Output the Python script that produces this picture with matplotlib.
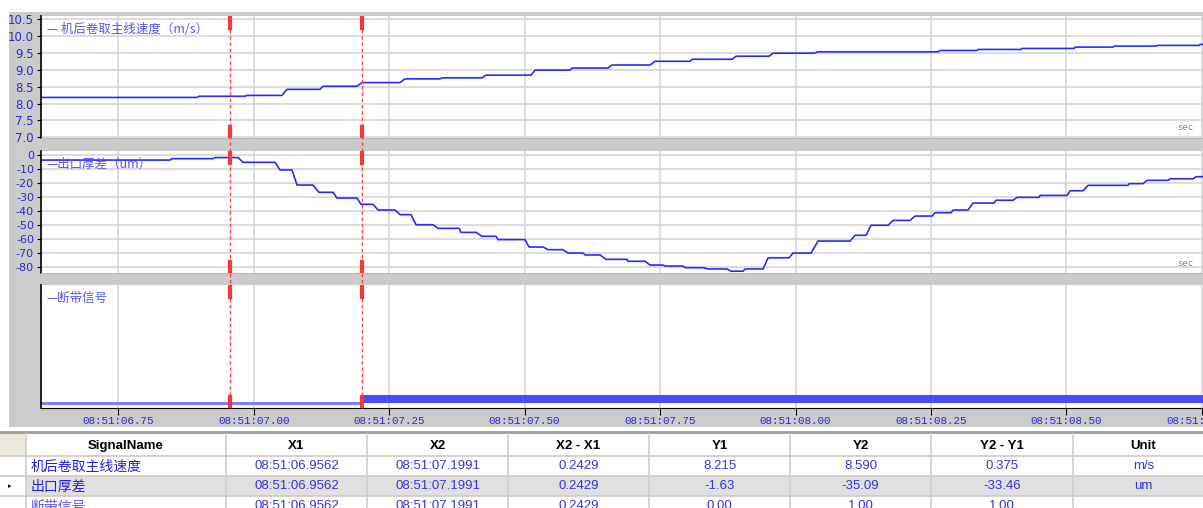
"""Recreate the 3-panel signal recorder view with cursor table."""
import matplotlib
matplotlib.use("Agg")
import matplotlib.pyplot as plt
from matplotlib.patches import Rectangle
from matplotlib.lines import Line2D
from matplotlib.ticker import FuncFormatter, MultipleLocator
from matplotlib import transforms

plt.rcParams["font.family"] = ["DejaVu Sans", "Noto Sans CJK SC"]
plt.rcParams["axes.unicode_minus"] = False

# time in seconds after 08:51:00
# 机后卷取主线速度 (m/s): each level runs from t0 to t1
spd_t0 = [6.6075, 6.8991, 6.9877, 7.0615, 7.1280, 7.2000, 7.2793, 7.3476, 7.4288, 7.5193,
          7.5876, 7.6614, 7.7408, 7.8091, 7.8903, 7.9586, 8.0416, 8.2668, 8.3369, 8.4181,
          8.5160, 8.5880, 8.6674, 8.7468]
spd_t1 = [6.8954, 6.9840, 7.0523, 7.1224, 7.1907, 7.2701, 7.3439, 7.4214, 7.5119, 7.5839,
          7.6540, 7.7315, 7.8054, 7.8829, 7.9511, 8.0342, 8.2631, 8.3350, 8.4163, 8.5141,
          8.5861, 8.6655, 8.7449, 8.7560]
spd_v = [8.18, 8.215, 8.24, 8.42, 8.51, 8.62, 8.73, 8.76, 8.84, 8.99,
         9.05, 9.14, 9.25, 9.31, 9.40, 9.49, 9.53, 9.57, 9.60, 9.63,
         9.67, 9.70, 9.72, 9.75]

# 出口厚差 (um)
thk_t0 = [6.6075, 6.8493, 6.9286, 6.9803, 7.0486, 7.0800, 7.1206, 7.1538, 7.1981, 7.2295,
          7.2701, 7.2996, 7.3402, 7.3827, 7.4214, 7.4510, 7.5082, 7.5433, 7.5802, 7.6116,
          7.6503, 7.6909, 7.7315, 7.7592, 7.7961, 7.8386, 7.8810, 7.9069, 7.9493, 7.9955,
          8.0416, 8.1099, 8.1394, 8.1800, 8.2206, 8.2575, 8.2907, 8.3277, 8.3701, 8.4089,
          8.4513, 8.5067, 8.5399, 8.6156, 8.6489, 8.6913, 8.7393]
thk_t1 = [6.8456, 6.9250, 6.9711, 7.0394, 7.0708, 7.1095, 7.1464, 7.1907, 7.2203, 7.2609,
          7.2904, 7.3310, 7.3790, 7.4104, 7.4473, 7.5008, 7.5340, 7.5710, 7.6079, 7.6393,
          7.6891, 7.7223, 7.7555, 7.7924, 7.8293, 7.8736, 7.9032, 7.9401, 7.9881, 8.0287,
          8.1007, 8.1302, 8.1708, 8.2114, 8.2520, 8.2870, 8.3184, 8.3664, 8.4015, 8.4495,
          8.5011, 8.5307, 8.6137, 8.6414, 8.6876, 8.7338, 8.7560]
thk_v = [-3.4, -2.4, -1.6, -5.0, -10.5, -21.3, -26.5, -30.6, -35.1, -39.2,
         -42.5, -49.7, -52.3, -55.2, -58.0, -60.4, -65.7, -67.6, -70.0, -71.4,
         -74.5, -75.9, -78.6, -79.3, -80.5, -81.4, -83.0, -81.4, -73.4, -70.0,
         -61.4, -57.3, -50.1, -46.6, -43.5, -41.1, -39.2, -34.2, -32.2, -30.1,
         -28.7, -25.4, -21.5, -20.3, -17.9, -16.8, -15.3]

# 断带信号
brk_t = [6.6075, 7.197, 7.197, 8.756]
brk_v = [0, 0, 1, 1]

x1_t, x2_t = 6.9562, 7.1991
t_min, t_max = 6.6075, 8.752

legend_names = ["机后卷取主线速度（m/s）", "出口厚差（um）", "断带信号"]

col_names = ["SignalName", "X1", "X2", "X2 - X1", "Y1", "Y2", "Y2 - Y1", "Unit"]
row_names = ["机后卷取主线速度", "出口厚差", "断带信号"]
row_x1 = ["08:51:06.9562"] * 3
row_x2 = ["08:51:07.1991"] * 3
row_dx = ["0.2429"] * 3
row_y1 = ["8.215", "-1.63", "0.00"]
row_y2 = ["8.590", "-35.09", "1.00"]
row_dy = ["0.375", "-33.46", "1.00"]
row_unit = ["m/s", "um", ""]

W, H = 1203, 508
BLUE = "#2a2aff"
TICK_BLUE = "#2b2bc8"
GRID = "#d6d6d6"


def fx(x):
    return x / W


def fy(y):
    return 1 - y / H


def steps(t0, t1, v):
    xs, ys = [], []
    for a, b, c in zip(t0, t1, v):
        xs += [a, b]
        ys += [c, c]
    return xs, ys


fig = plt.figure(figsize=(W / 100, H / 100), dpi=100)
fig.patch.set_facecolor("white")
fig.add_artist(Rectangle((fx(9), fy(427)), fx(W - 9), 415 / H, transform=fig.transFigure,
                         facecolor="#cbcbcb", edgecolor="none", zorder=-5))

# panel boxes in pixels: (top, bottom)
panels = [(16, 137.5), (151, 273), (285, 408)]
axes = []
for top, bot in panels:
    ax = fig.add_axes([fx(41), fy(bot), fx(W - 41), (bot - top) / H])
    ax.set_facecolor("white")
    ax.set_xlim(t_min, t_max)
    ax.xaxis.set_major_locator(MultipleLocator(0.25))
    ax.grid(True, axis="x", color=GRID, lw=1.2)
    for s in ("top", "right"):
        ax.spines[s].set_visible(False)
    ax.spines["left"].set_color("black")
    ax.spines["left"].set_linewidth(1.2)
    ax.spines["bottom"].set_color("#b8b8b8")
    ax.tick_params(axis="y", colors="black", labelcolor=TICK_BLUE, labelsize=8.5,
                   length=3, pad=2)
    ax.tick_params(axis="x", length=0, labelbottom=False)
    ax.set_axisbelow(True)
    axes.append(ax)
ax1, ax2, ax3 = axes

# panel 1: speed
xs, ys = steps(spd_t0, spd_t1, spd_v)
ax1.plot(xs, ys, color=BLUE, lw=1.2)
ax1.set_ylim(6.995, 10.59)
ax1.yaxis.set_major_locator(MultipleLocator(0.5))
ax1.yaxis.set_major_formatter(FuncFormatter(lambda v, p: f"{v:.1f}"))
ax1.grid(True, axis="y", color=GRID, lw=1.2)

# panel 2: thickness deviation
xs, ys = steps(thk_t0, thk_t1, thk_v)
ax2.plot(xs, ys, color=BLUE, lw=1.2)
ax2.set_ylim(-84.3, 3.1)
ax2.yaxis.set_major_locator(MultipleLocator(10))
ax2.tick_params(axis="y", labelsize=8)
ax2.grid(True, axis="y", color=GRID, lw=1.2)

# panel 3: strip break signal
ax3.plot(brk_t[:2], brk_v[:2], color="#7c7cff", lw=2.2)
ax3.fill_between(brk_t, 0, brk_v, color="#4a4aff", lw=0)
ax3.set_ylim(-0.62, 14.75)
ax3.set_yticks([])
ax3.spines["bottom"].set_color("black")
ax3.tick_params(axis="x", length=5, colors="black", labelbottom=True, labelcolor=TICK_BLUE,
                labelsize=7.8, pad=1)
ax3.xaxis.set_major_formatter(FuncFormatter(lambda t, p: f"08:51:{t:05.2f}"))
for lab in ax3.get_xticklabels():
    lab.set_fontfamily("Liberation Mono")

for ax, name in zip(axes, legend_names):
    ax.text(0.005, 0.89, "— " + name if ax is ax1 else "—" + name, transform=ax.transAxes,
            fontsize=9, color="#5656f0", va="center", ha="left",
            family=["Noto Sans CJK SC", "DejaVu Sans"])
for ax in (ax1, ax2):
    ax.text(0.985, 0.08, "sec", transform=ax.transAxes, fontsize=6.5, color="#7a7aee",
            ha="center", va="center", family="DejaVu Sans Mono")

# cursors
blend = transforms.blended_transform_factory(ax3.transData, fig.transFigure)
for xc in (x1_t, x2_t):
    fig.add_artist(Line2D([xc, xc], [fy(408), fy(16)], transform=blend, color="#ff4040",
                          lw=1, ls=(0, (2.5, 2)), zorder=3))
    for ax in axes:
        ax.axvline(xc, 0.9, 1.0, color="#ff3030", lw=3, zorder=4)
        ax.axvline(xc, 0.0, 0.09, color="#ff3030", lw=3, zorder=4)

# cursor table
col_edges = [9, 26, 226, 367, 508, 649, 790, 931, 1073, 1214]
row_edges = [434, 456, 476, 496, 516]
fig.add_artist(Line2D([0, 1], [fy(432), fy(432)], transform=fig.transFigure,
                      color="#9c9c9c", lw=2))
fig.add_artist(Rectangle((fx(0), fy(456)), fx(26), 22 / H, transform=fig.transFigure,
                         facecolor="#ebe8dc", edgecolor="none"))
fig.add_artist(Rectangle((fx(26), fy(496)), fx(W - 26), 20 / H, transform=fig.transFigure,
                         facecolor="#e0e0e0", edgecolor="none"))
for y in row_edges[1:]:
    fig.add_artist(Line2D([fx(0), 1], [fy(y), fy(y)], transform=fig.transFigure,
                          color="#cfcbc0", lw=1.2))
for x in col_edges[1:-1]:
    fig.add_artist(Line2D([fx(x), fx(x)], [fy(434), 0], transform=fig.transFigure,
                          color="#d2cec3", lw=1.2))

hy = (row_edges[0] + row_edges[1]) / 2 + 1
for i, name in enumerate(col_names):
    cx = (col_edges[i + 1] + col_edges[i + 2]) / 2
    fig.text(fx(cx), fy(hy), name, fontsize=9.5, fontweight="bold", color="black",
             ha="center", va="center", family="Liberation Sans")

columns = [row_x1, row_x2, row_dx, row_y1, row_y2, row_dy, row_unit]
for r in range(3):
    cy = (row_edges[r + 1] + row_edges[r + 2]) / 2
    fig.text(fx(col_edges[1] + 5), fy(cy + 1), row_names[r], fontsize=10,
             color="#2222ee" if r < 2 else "#5a5aff", ha="left", va="center",
             family=["Noto Sans CJK SC", "DejaVu Sans"])
    for c, vals in enumerate(columns):
        cx = (col_edges[c + 2] + col_edges[c + 3]) / 2
        fig.text(fx(cx), fy(cy), vals[r], fontsize=9.5, color="#3434e0", ha="center",
                 va="center", family="Liberation Sans")
fig.text(fx(10), fy(486), "▸", fontsize=5, color="black", ha="center", va="center")

fig.savefig("out.png", dpi=100)
